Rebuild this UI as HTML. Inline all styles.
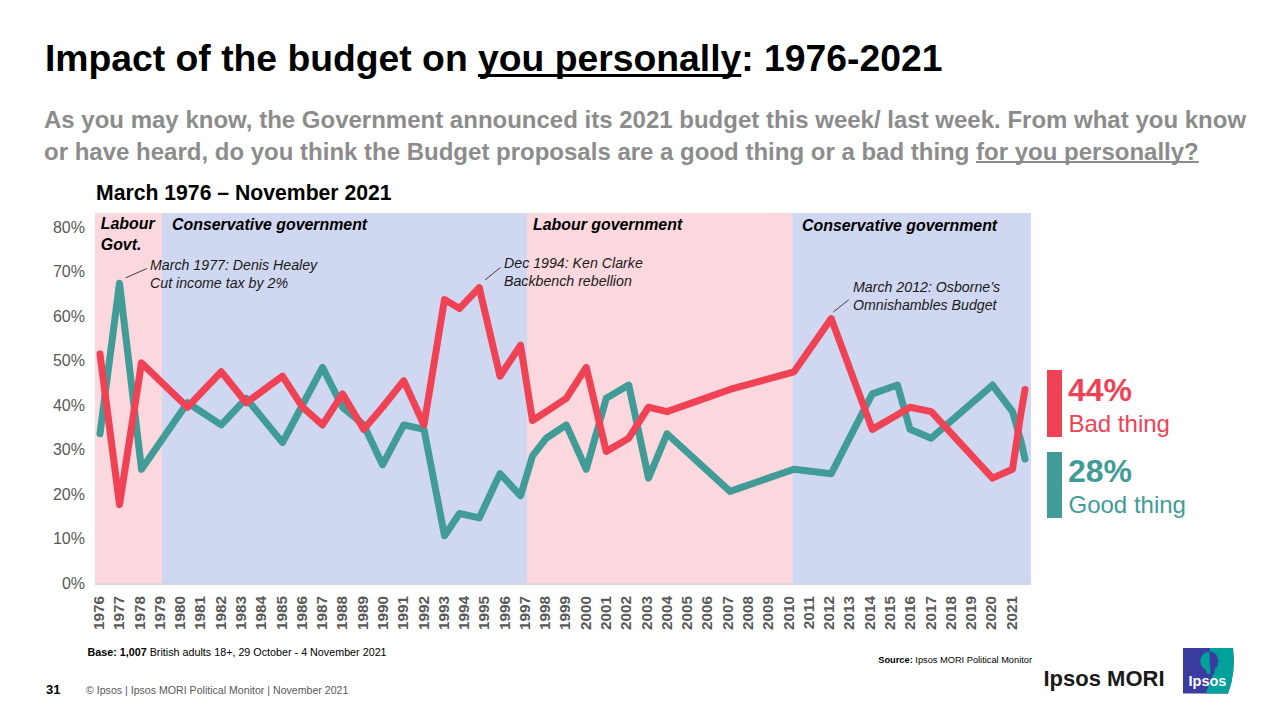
<!DOCTYPE html>
<html><head><meta charset="utf-8"><style>
*{margin:0;padding:0;box-sizing:border-box}
html,body{width:1280px;height:720px;overflow:hidden;background:#fff}
body{position:relative;font-family:"Liberation Sans",sans-serif;color:#000}
.a{position:absolute;white-space:nowrap}
.title{left:45px;top:36px;font-size:37.3px;font-weight:bold;line-height:44px}
.sub{left:44px;top:104px;font-size:24px;font-weight:bold;color:#8c8c8c;line-height:32px}
.u{text-decoration:underline;text-decoration-skip-ink:none}
.title .u{text-decoration-thickness:3px;text-underline-offset:3px}
.sub .u{text-decoration-thickness:2px;text-underline-offset:1px}
.ct{left:96px;top:181px;font-size:21.2px;font-weight:bold;line-height:24px}
.gov{font-size:15.9px;font-weight:bold;font-style:italic;line-height:21px}
.ann{font-size:14.2px;font-style:italic;line-height:18px;color:#1a1a1a}
.yl{position:absolute;left:30px;width:55px;text-align:right;font-size:16px;line-height:18px;color:#595959}
.xl{position:absolute;top:616px;width:40px;height:16px;margin-left:-20px;margin-top:-8px;transform:rotate(-90deg);text-align:right;font-size:15.3px;font-weight:bold;line-height:16px;color:#595959}
svg{position:absolute;left:0;top:0}
</style></head><body>
<div class="a title">Impact of the budget on <span class="u">you personally</span>: 1976-2021</div>
<div class="a sub">As you may know, the Government announced its 2021 budget this week/ last week. From what you know<br>or have heard, do you think the Budget proposals are a good thing or a bad thing <span class="u">for you personally?</span></div>
<div class="a ct">March 1976 &ndash; November 2021</div>
<svg width="1280" height="720" viewBox="0 0 1280 720">
<rect x="95.00" y="213.00" width="67.00" height="371.00" fill="#FAD8DE"/>
<rect x="162.00" y="213.00" width="365.00" height="371.00" fill="#D0D7F0"/>
<rect x="527.00" y="213.00" width="265.30" height="371.00" fill="#FAD8DE"/>
<rect x="792.30" y="213.00" width="238.70" height="371.00" fill="#D0D7F0"/>
<polyline points="100.00,433.78 119.50,283.16 141.50,469.22 187.50,402.77 221.25,424.92 246.25,398.34 282.50,442.64 302.50,404.99 322.50,367.33 342.50,407.20 363.75,424.92 382.50,464.79 403.75,424.92 424.00,429.35 444.50,535.67 459.50,513.52 479.25,517.95 500.00,473.65 520.60,495.80 532.50,455.93 546.25,438.21 566.25,424.92 586.25,469.22 606.25,398.34 628.75,385.05 648.50,478.08 667.00,433.78 730.00,491.37 794.00,469.22 831.25,473.65 872.25,393.91 897.50,385.05 910.00,429.35 931.25,438.21 992.50,385.05 1012.50,411.63 1020.80,440.42 1025.00,459.03" fill="none" stroke="#419C98" stroke-width="7" stroke-linejoin="round" stroke-linecap="round"/>
<polyline points="100.00,354.04 119.50,504.66 141.50,362.90 187.50,407.20 221.25,371.76 246.25,402.77 282.50,376.19 302.50,407.20 322.50,424.92 342.50,393.91 363.75,429.35 382.50,407.20 403.75,380.62 424.00,424.92 444.50,299.55 459.50,308.41 479.25,287.59 500.00,376.19 520.60,345.18 532.50,420.49 546.25,411.63 566.25,398.34 586.25,367.33 606.25,451.50 628.75,438.21 648.50,407.20 667.00,411.63 730.00,389.48 794.00,371.76 831.25,318.60 872.25,429.35 897.50,414.73 910.00,407.20 931.25,411.63 992.50,478.08 1012.50,469.22 1020.80,414.07 1025.00,389.48" fill="none" stroke="#F04255" stroke-width="7" stroke-linejoin="round" stroke-linecap="round"/>
<rect x="95" y="583.6" width="936" height="1.2" fill="#cfcfcf"/>
<line x1="125.6" y1="277.9" x2="146.9" y2="268.5" stroke="#404040" stroke-width="1"/>
<line x1="485" y1="280" x2="500.5" y2="267.5" stroke="#404040" stroke-width="1"/>
<line x1="833.3" y1="312" x2="848.7" y2="299.8" stroke="#404040" stroke-width="1"/>
</svg>
<div class="a gov" style="left:100.8px;top:212.8px">Labour<br>Govt.</div>
<div class="a gov" style="left:172px;top:213.5px">Conservative government</div>
<div class="a gov" style="left:533px;top:214px">Labour government</div>
<div class="a gov" style="left:802px;top:215.3px">Conservative government</div>
<div class="a ann" style="left:150px;top:256px">March 1977: Denis Healey<br>Cut income tax by 2%</div>
<div class="a ann" style="left:504px;top:254px">Dec 1994: Ken Clarke<br>Backbench rebellion</div>
<div class="a ann" style="left:853px;top:278px">March 2012: Osborne&rsquo;s<br>Omnishambles Budget</div>
<div class="yl" style="top:574.7px">0%</div>
<div class="yl" style="top:530.2px">10%</div>
<div class="yl" style="top:485.7px">20%</div>
<div class="yl" style="top:441.2px">30%</div>
<div class="yl" style="top:396.7px">40%</div>
<div class="yl" style="top:352.2px">50%</div>
<div class="yl" style="top:307.7px">60%</div>
<div class="yl" style="top:263.2px">70%</div>
<div class="yl" style="top:218.7px">80%</div>
<div class="xl" style="left:99.0px">1976</div>
<div class="xl" style="left:119.3px">1977</div>
<div class="xl" style="left:139.6px">1978</div>
<div class="xl" style="left:159.8px">1979</div>
<div class="xl" style="left:180.1px">1980</div>
<div class="xl" style="left:200.4px">1981</div>
<div class="xl" style="left:220.7px">1982</div>
<div class="xl" style="left:241.0px">1983</div>
<div class="xl" style="left:261.2px">1984</div>
<div class="xl" style="left:281.5px">1985</div>
<div class="xl" style="left:301.8px">1986</div>
<div class="xl" style="left:322.1px">1987</div>
<div class="xl" style="left:342.4px">1988</div>
<div class="xl" style="left:362.6px">1989</div>
<div class="xl" style="left:382.9px">1990</div>
<div class="xl" style="left:403.2px">1991</div>
<div class="xl" style="left:423.5px">1992</div>
<div class="xl" style="left:443.8px">1993</div>
<div class="xl" style="left:464.0px">1994</div>
<div class="xl" style="left:484.3px">1995</div>
<div class="xl" style="left:504.6px">1996</div>
<div class="xl" style="left:524.9px">1997</div>
<div class="xl" style="left:545.2px">1998</div>
<div class="xl" style="left:565.4px">1999</div>
<div class="xl" style="left:585.7px">2000</div>
<div class="xl" style="left:606.0px">2001</div>
<div class="xl" style="left:626.3px">2002</div>
<div class="xl" style="left:646.6px">2003</div>
<div class="xl" style="left:666.8px">2004</div>
<div class="xl" style="left:687.1px">2005</div>
<div class="xl" style="left:707.4px">2006</div>
<div class="xl" style="left:727.7px">2007</div>
<div class="xl" style="left:748.0px">2008</div>
<div class="xl" style="left:768.2px">2009</div>
<div class="xl" style="left:788.5px">2010</div>
<div class="xl" style="left:808.8px">2011</div>
<div class="xl" style="left:829.1px">2012</div>
<div class="xl" style="left:849.4px">2013</div>
<div class="xl" style="left:869.6px">2014</div>
<div class="xl" style="left:889.9px">2015</div>
<div class="xl" style="left:910.2px">2016</div>
<div class="xl" style="left:930.5px">2017</div>
<div class="xl" style="left:950.8px">2018</div>
<div class="xl" style="left:971.0px">2019</div>
<div class="xl" style="left:991.3px">2020</div>
<div class="xl" style="left:1011.6px">2021</div>
<div class="a" style="left:1047px;top:370px;width:15px;height:67px;background:#F04255"></div>
<div class="a" style="left:1068px;top:372px;font-size:32px;font-weight:bold;line-height:36px;color:#F04255">44%</div>
<div class="a" style="left:1068.5px;top:409.5px;font-size:24px;line-height:28px;color:#F04255">Bad thing</div>
<div class="a" style="left:1047px;top:452px;width:15px;height:66px;background:#419C98"></div>
<div class="a" style="left:1068px;top:453px;font-size:32px;font-weight:bold;line-height:36px;color:#419C98">28%</div>
<div class="a" style="left:1068.5px;top:490.5px;font-size:24px;line-height:28px;color:#419C98">Good thing</div>
<div class="a" style="left:87.5px;top:645.8px;font-size:10.75px;line-height:13px"><b>Base: 1,007</b> British adults 18+, 29 October - 4 November 2021</div>
<div class="a" style="left:46px;top:682px;font-size:13px;font-weight:bold;line-height:15px">31</div>
<div class="a" style="left:86px;top:684px;font-size:10.6px;line-height:13px;color:#595959">&copy; Ipsos | Ipsos MORI Political Monitor | November 2021</div>
<div class="a" style="left:878.3px;top:654px;font-size:9.25px;line-height:12px"><b>Source:</b> Ipsos MORI Political Monitor</div>
<div class="a" style="left:1043.5px;top:666.3px;font-size:22px;font-weight:bold;line-height:26px;color:#1a1a1a">Ipsos MORI</div>
<svg width="1280" height="720" viewBox="0 0 1280 720" style="position:absolute;left:0;top:0">
<path d="M1183,648 H1233 Q1236,672 1228,693.6 H1183 Z" fill="#3c3ca0"/>
<path d="M1209.6,648 H1233 Q1236,672 1228,693.6 H1205.6 L1213,674 Z" fill="#00a09b"/>
<path d="M1209.6,652 C1204,651.5 1200,656 1200.5,662 C1201,667 1204,669 1206,670 L1207,674 L1212,674 L1209.6,662 Z" fill="#00a09b"/>
<path d="M1209.6,652 C1214,651.5 1217,654 1217.5,658 L1218.8,662 L1217.5,663 C1217.5,666 1217,668 1215,668.5 L1214,674 L1210.5,674 Z" fill="#3c3ca0"/>
</svg>
<div class="a" style="left:1188.5px;top:673px;font-size:14.5px;font-weight:bold;color:#fff;line-height:17px">Ipsos</div>
</body></html>
